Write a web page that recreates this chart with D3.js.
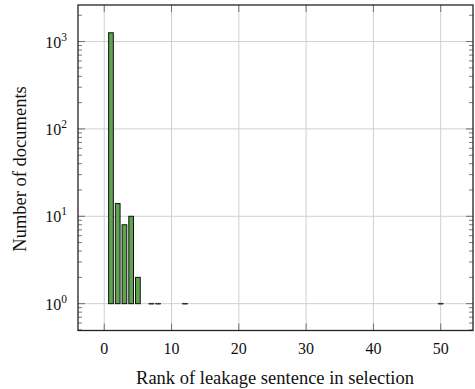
<!DOCTYPE html>
<html>
<head>
<meta charset="utf-8">
<script src="https://cdn.jsdelivr.net/npm/d3@7"></script>
<style>
  body { margin: 0; background: white; }
  text { font-family: "Liberation Serif", "DejaVu Serif", serif; fill: #111; }
</style>
</head>
<body>
<script>
var w = 475;
var h = 389;

// rank of the leakage sentence and how many documents had it there
var ranks = [1, 2, 3, 4, 5, 7, 8, 12, 50];
var counts = [1260, 14, 8, 10, 2, 1, 1, 1, 1];
var xTicks = [0, 10, 20, 30, 40, 50];
var yTicks = [1, 10, 100, 1000];

var mLeft = 78, mRight = 473, mTop = 5, mBottom = 330.5;

var svg = d3.select("body").append("svg")
  .attr("width", w)
  .attr("height", h);

var x = d3.scaleLinear()
  .domain([-3.9, 54.8])
  .range([mLeft, mRight]);

var y = d3.scaleLog()
  .domain([0.493, 2620])
  .range([mBottom, mTop]);

// grid
svg.append("g").selectAll("line")
  .data(xTicks)
  .join("line")
  .attr("x1", d => x(d)).attr("x2", d => x(d))
  .attr("y1", mTop).attr("y2", mBottom)
  .attr("stroke", "#d0d0d0").attr("stroke-width", 1);

svg.append("g").selectAll("line")
  .data(yTicks)
  .join("line")
  .attr("x1", mLeft).attr("x2", mRight)
  .attr("y1", d => y(d)).attr("y2", d => y(d))
  .attr("stroke", "#d0d0d0").attr("stroke-width", 1);

// bars, drawn up from 1
var barW = x(0.7) - x(0);
svg.append("g").selectAll("rect")
  .data(ranks)
  .join("rect")
  .attr("x", d => x(d) - barW / 2)
  .attr("width", barW)
  .attr("y", (d, i) => y(counts[i]))
  .attr("height", (d, i) => Math.max(0.01, y(1) - y(counts[i])))
  .attr("fill", "#5ea34e")
  .attr("stroke", "#111")
  .attr("stroke-width", 1);

// zero-height bars still show as a short dash
svg.append("g").selectAll("line")
  .data(ranks.filter((d, i) => counts[i] == 1))
  .join("line")
  .attr("x1", d => x(d) - barW / 2).attr("x2", d => x(d) + barW / 2)
  .attr("y1", y(1)).attr("y2", y(1))
  .attr("stroke", "#333").attr("stroke-width", 1.5);

// ticks
var tickCol = "#555";
var minor = [];
for (var e = -1; e <= 3; e++) {
  for (var k = 2; k <= 9; k++) {
    var v = k * Math.pow(10, e);
    if (v > y.domain()[0] && v < y.domain()[1]) minor.push(v);
  }
}
[mLeft, mRight].forEach(function(px) {
  var dir = px == mLeft ? 1 : -1;
  svg.append("g").selectAll("line")
    .data(minor)
    .join("line")
    .attr("x1", px).attr("x2", px + dir * 4)
    .attr("y1", d => y(d)).attr("y2", d => y(d))
    .attr("stroke", tickCol).attr("stroke-width", 0.8);
  svg.append("g").selectAll("line")
    .data(yTicks)
    .join("line")
    .attr("x1", px).attr("x2", px + dir * 7)
    .attr("y1", d => y(d)).attr("y2", d => y(d))
    .attr("stroke", tickCol).attr("stroke-width", 0.8);
});
[mTop, mBottom].forEach(function(py) {
  var dir = py == mBottom ? -1 : 1;
  svg.append("g").selectAll("line")
    .data(xTicks)
    .join("line")
    .attr("x1", d => x(d)).attr("x2", d => x(d))
    .attr("y1", py).attr("y2", py + dir * 7)
    .attr("stroke", tickCol).attr("stroke-width", 0.8);
});

// frame
svg.append("rect")
  .attr("x", mLeft).attr("y", mTop)
  .attr("width", mRight - mLeft).attr("height", mBottom - mTop)
  .attr("fill", "none")
  .attr("stroke", "#222").attr("stroke-width", 1.3);

// tick labels
svg.append("g").selectAll("text")
  .data(xTicks)
  .join("text")
  .attr("x", d => x(d))
  .attr("y", 354)
  .attr("text-anchor", "middle")
  .attr("font-size", 16)
  .text(d => d);

var yl = svg.append("g").selectAll("text")
  .data(yTicks)
  .join("text")
  .attr("x", 67)
  .attr("y", d => y(d) + 6)
  .attr("text-anchor", "end")
  .attr("font-size", 16);
yl.append("tspan").text("10");
yl.append("tspan")
  .attr("dy", -7)
  .attr("font-size", 11.5)
  .text(d => Math.round(Math.log10(d)));

// axis titles
svg.append("text")
  .attr("x", 275)
  .attr("y", 384)
  .attr("text-anchor", "middle")
  .attr("font-size", 18.5)
  .text("Rank of leakage sentence in selection");

svg.append("text")
  .attr("transform", "translate(26,169) rotate(-90)")
  .attr("text-anchor", "middle")
  .attr("font-size", 18.5)
  .text("Number of documents");
</script>
</body>
</html>
